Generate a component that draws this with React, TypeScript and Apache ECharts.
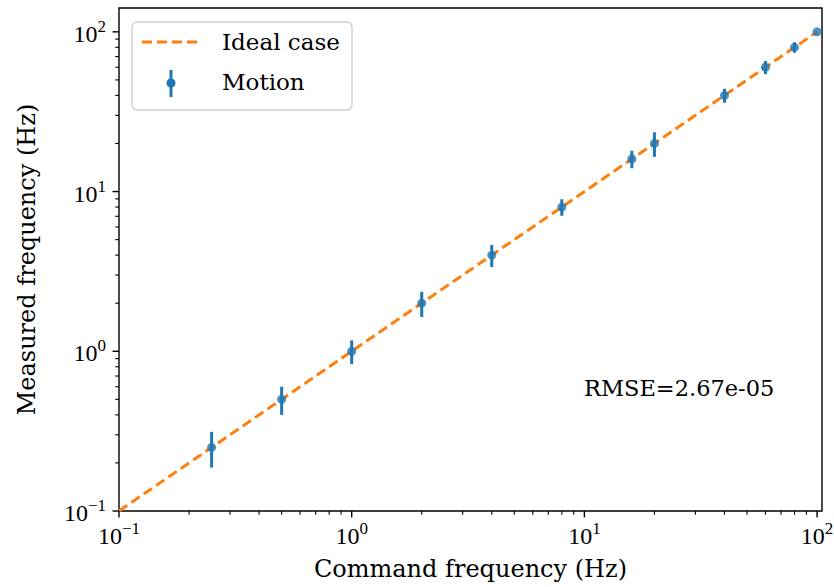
import React, { useEffect, useRef } from "react";
import * as echarts from "echarts";

// ---- data ----
const commandFreq = [0.25, 0.5, 1, 2, 4, 8, 16, 20, 40, 60, 80, 100];
const measuredFreq = [0.25, 0.5, 1, 2, 4, 8, 16, 20, 40, 60, 80, 100];
const measuredErr = [0.063, 0.1, 0.17, 0.36, 0.63, 0.95, 2.0, 3.5, 4.0, 5.7, 6.0, 0];
const idealX = [0.1, 100];
const idealY = [0.1, 100];
const xRange = [0.1, 105];
const yRange = [0.1, 141];
const xMinorTicks = [0.2, 0.3, 0.4, 0.5, 0.6, 0.7, 0.8, 0.9, 2, 3, 4, 5, 6, 7, 8, 9, 20, 30, 40, 50, 60, 70, 80, 90];
const yMinorTicks = [0.2, 0.3, 0.4, 0.5, 0.6, 0.7, 0.8, 0.9, 2, 3, 4, 5, 6, 7, 8, 9, 20, 30, 40, 50, 60, 70, 80, 90];
const majorTicks = [0.1, 1, 10, 100];
const xTitle = "Command frequency (Hz)";
const yTitle = "Measured frequency (Hz)";
const seriesNames = ["Ideal case", "Motion"];
const rmseText = "RMSE=2.67e-05";

const FONT = "DejaVu Serif";
const NUMFONT = "Liberation Serif";
const BLUE = "#1f77b4";
const ORANGE = "#ff7f0e";

function expLabel(v: number) {
  const l = Math.log10(v);
  const e = Math.round(l);
  if (Math.abs(l - e) > 1e-6) return "";
  const s = e < 0 ? "\u2212" + -e : String(e);
  return "{b|10}{s|" + s + "}";
}

const labelRich = {
  b: { fontFamily: NUMFONT, fontSize: 24, color: "#000", lineHeight: 28, verticalAlign: "bottom" },
  s: { fontFamily: NUMFONT, fontSize: 17, color: "#000", lineHeight: 16, verticalAlign: "top" },
};

export default function App() {
  const ref = useRef<HTMLDivElement>(null);
  useEffect(() => {
    if (!ref.current) return;
    const chart = echarts.init(ref.current, null, { renderer: "svg" });

    // tick data: [x, y, kind] kind 0=x major,1=x minor,2=y major,3=y minor
    const tickData: number[][] = [];
    majorTicks.forEach((v) => tickData.push([v, yRange[0], 0]));
    xMinorTicks.forEach((v) => tickData.push([v, yRange[0], 1]));
    majorTicks.forEach((v) => tickData.push([xRange[0], v, 2]));
    yMinorTicks.forEach((v) => tickData.push([xRange[0], v, 3]));

    const idealData = idealX.map((x, i) => [x, idealY[i]]);
    const pointData = commandFreq.map((x, i) => [x, measuredFreq[i]]);
    const errData = commandFreq.map((x, i) => [x, measuredFreq[i], measuredErr[i]]);

    chart.setOption({
      animation: false,
      grid: {
        left: 119,
        right: 12,
        top: 8,
        bottom: 76,
        containLabel: false,
        outerBoundsMode: "none",
        show: true,
        borderColor: "#000",
        borderWidth: 1.4,
        backgroundColor: "transparent",
      },
      xAxis: {
        type: "log",
        logBase: 10,
        min: xRange[0],
        max: xRange[1],
        interval: 1,
        axisLine: { show: false },
        axisTick: { show: false },
        splitLine: { show: false },
        axisLabel: {
          margin: 9,
          showMaxLabel: false,
          hideOverlap: false,
          formatter: (v: number) => expLabel(v),
          rich: labelRich,
        },
        name: xTitle,
        nameLocation: "middle",
        nameGap: 46,
        nameTextStyle: { fontFamily: FONT, fontSize: 24, color: "#000" },
      },
      yAxis: {
        type: "log",
        logBase: 10,
        min: yRange[0],
        max: yRange[1],
        interval: 1,
        axisLine: { show: false },
        axisTick: { show: false },
        splitLine: { show: false },
        axisLabel: {
          margin: 13,
          showMaxLabel: false,
          formatter: (v: number) => expLabel(v),
          rich: labelRich,
        },
        name: yTitle,
        nameLocation: "middle",
        nameGap: 80,
        nameTextStyle: { fontFamily: FONT, fontSize: 24, color: "#000" },
      },
      series: [
        {
          type: "custom",
          name: "ticks",
          silent: true,
          clip: false,
          data: tickData,
          renderItem: (params: any, api: any) => {
            const x = api.value(0);
            const y = api.value(1);
            const kind = api.value(2);
            const p = api.coord([x, y]);
            const major = kind === 0 || kind === 2;
            const len = major ? 6.5 : 3.8;
            let shape;
            if (kind < 2) shape = { x1: p[0], y1: p[1], x2: p[0], y2: p[1] + len };
            else shape = { x1: p[0] - len, y1: p[1], x2: p[0], y2: p[1] };
            return {
              type: "line",
              shape,
              style: { stroke: "#000", lineWidth: major ? 1.4 : 1.1 },
            };
          },
          z: 5,
        },
        {
          type: "line",
          name: seriesNames[0],
          data: idealData,
          showSymbol: false,
          symbol: "none",
          lineStyle: { color: ORANGE, width: 3, type: [10, 5] },
          z: 2,
        },
        {
          type: "custom",
          name: seriesNames[1],
          data: errData,
          clip: false,
          renderItem: (params: any, api: any) => {
            const x = api.value(0);
            const y = api.value(1);
            const e = api.value(2);
            const top = api.coord([x, y + e]);
            const bot = api.coord([x, Math.max(y - e, 1e-6)]);
            return {
              type: "line",
              shape: { x1: top[0], y1: top[1], x2: bot[0], y2: bot[1] },
              style: { stroke: BLUE, lineWidth: 3 },
            };
          },
          z: 3,
        },
        {
          type: "scatter",
          name: seriesNames[1] + " points",
          data: pointData,
          symbol: "circle",
          symbolSize: 9,
          itemStyle: { color: BLUE },
          clip: false,
          z: 4,
        },
      ],
      graphic: [
        {
          type: "rect",
          shape: { x: 132, y: 22, width: 220, height: 88, r: 5 },
          style: { fill: "rgba(255,255,255,0.8)", stroke: "#cccccc", lineWidth: 1.3 },
          z: 10,
        },
        {
          type: "line",
          shape: { x1: 142, y1: 42, x2: 198, y2: 42 },
          style: { stroke: ORANGE, lineWidth: 3, lineDash: [10, 5] },
          z: 11,
        },
        {
          type: "line",
          shape: { x1: 171, y1: 70, x2: 171, y2: 97 },
          style: { stroke: BLUE, lineWidth: 3 },
          z: 11,
        },
        {
          type: "circle",
          shape: { cx: 171, cy: 83, r: 4.5 },
          style: { fill: BLUE },
          z: 11,
        },
        {
          type: "text",
          x: 222,
          y: 42,
          style: { text: seriesNames[0], fontFamily: FONT, fontSize: 23, fill: "#000", verticalAlign: "middle" },
          z: 11,
        },
        {
          type: "text",
          x: 222,
          y: 82,
          style: { text: seriesNames[1], fontFamily: FONT, fontSize: 23, fill: "#000", verticalAlign: "middle" },
          z: 11,
        },
        {
          type: "text",
          x: 584,
          y: 388,
          style: { text: rmseText, fontFamily: FONT, fontSize: 22.5, fill: "#000", verticalAlign: "middle" },
          z: 11,
        },
      ],
    });
    return () => chart.dispose();
  }, []);
  return (
    <div
      ref={ref}
      style={{ position: "absolute", left: 0, top: 0, width: 834, height: 587, background: "#fff" }}
    />
  );
}
